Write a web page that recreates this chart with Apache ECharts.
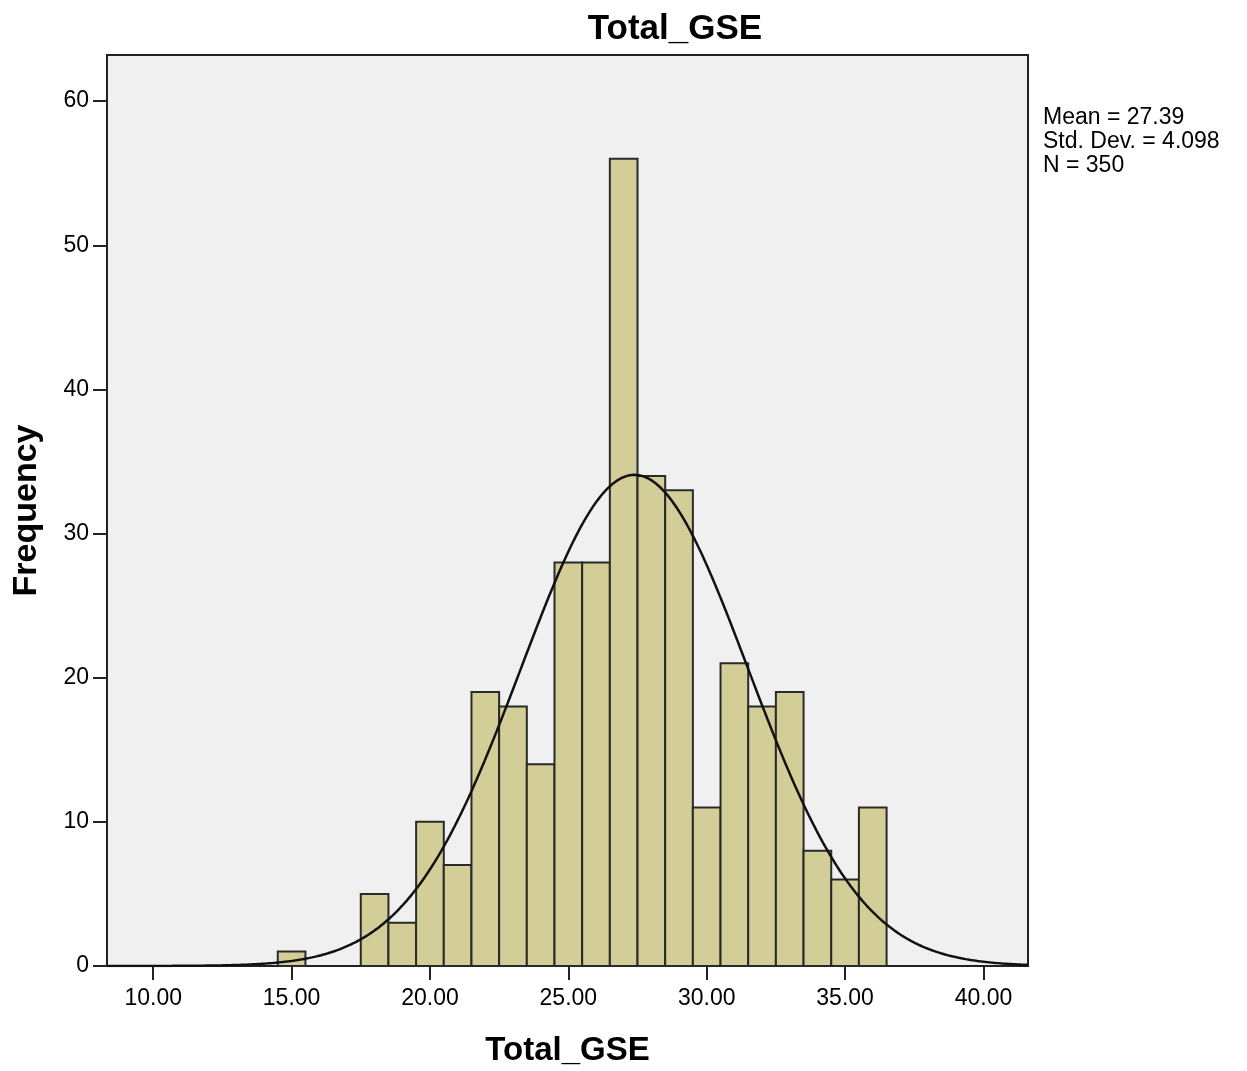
<!DOCTYPE html>
<html>
<head>
<meta charset="utf-8">
<script src="https://cdn.jsdelivr.net/npm/echarts@6/dist/echarts.min.js"></script>
<style>
html,body{margin:0;padding:0;background:#fff;}
#chart{width:1247px;height:1071px;}
</style>
</head>
<body>
<div id="chart"></div>
<script>
// Histogram bin centres (bin width 1) and frequencies
const binCenters = [15, 18, 19, 20, 21, 22, 23, 24, 25, 26, 27, 28, 29, 30, 31, 32, 33, 34, 35, 36];
const frequencies = [1, 5, 3, 10, 7, 19, 18, 14, 28, 28, 56, 34, 33, 11, 21, 18, 19, 8, 6, 11];
const xTicks = [10, 15, 20, 25, 30, 35, 40];
const yTicks = [0, 10, 20, 30, 40, 50, 60];
// Stated statistics of the fitted normal curve
const stats = { mean: 27.39, sd: 4.098, n: 350 };
const binWidth = 1;
const xMin = 8.33, xMax = 41.61, yMax = 63.2;

const barData = binCenters.map((c, i) => [c, frequencies[i]]);

// Fitted normal curve: N * binWidth * pdf(x)
const curve = [];
for (let i = 0; i <= 400; i++) {
  const x = xMin + (xMax - xMin) * i / 400;
  const z = (x - stats.mean) / stats.sd;
  curve.push([x, stats.n * binWidth * Math.exp(-0.5 * z * z) / (stats.sd * Math.sqrt(2 * Math.PI))]);
}

const font = 'Arial, "Liberation Sans", Helvetica, sans-serif';
const chart = echarts.init(document.getElementById('chart'), null, { renderer: 'canvas' });
chart.setOption({
  animation: false,
  backgroundColor: '#ffffff',
  title: {
    text: 'Total_GSE',
    left: 670, top: 7, textAlign: 'center',
    textStyle: { fontFamily: font, fontWeight: 'bold', fontSize: 35, color: '#000' }
  },
  grid: {
    left: 107, top: 55, right: 219, bottom: 105,
    containLabel: false, outerBoundsMode: 'none',
    show: true, backgroundColor: '#f0f0f0', borderColor: '#222', borderWidth: 2
  },
  xAxis: {
    type: 'value', min: xMin, max: xMax,
    name: 'Total_GSE', nameLocation: 'middle', nameGap: 68,
    nameTextStyle: { fontFamily: font, fontWeight: 'bold', fontSize: 33, color: '#000' },
    axisLine: { show: true, onZero: false, lineStyle: { color: '#222', width: 2 } },
    axisTick: { show: true, length: 14, customValues: xTicks, lineStyle: { color: '#222', width: 2 } },
    axisLabel: {
      customValues: xTicks, margin: 21,
      formatter: v => v.toFixed(2),
      fontFamily: font, fontSize: 23, color: '#000'
    },
    splitLine: { show: false }
  },
  yAxis: {
    type: 'value', min: 0, max: yMax,
    name: 'Frequency', nameLocation: 'middle', nameGap: 63, nameRotate: 90,
    nameTextStyle: { fontFamily: font, fontWeight: 'bold', fontSize: 34, color: '#000' },
    axisLine: { show: true, lineStyle: { color: '#222', width: 2 } },
    axisTick: { show: true, length: 14, customValues: yTicks, lineStyle: { color: '#222', width: 2 } },
    axisLabel: { customValues: yTicks, margin: 18, padding: [7, 0, 0, 0], fontFamily: font, fontSize: 23, color: '#000' },
    splitLine: { show: false }
  },
  graphic: [{
    type: 'text', left: 1043, top: 106,
    style: {
      text: 'Mean = ' + stats.mean.toFixed(2) + '\nStd. Dev. = ' + stats.sd.toFixed(3) + '\nN = ' + stats.n,
      font: '23px ' + font, lineHeight: 24, fill: '#000'
    }
  }],
  series: [{
    type: 'custom',
    data: barData,
    renderItem: (params, api) => {
      const c = api.value(0), f = api.value(1);
      const p0 = api.coord([c - binWidth / 2, f]);
      const p1 = api.coord([c + binWidth / 2, 0]);
      return {
        type: 'rect',
        shape: { x: p0[0], y: p0[1], width: p1[0] - p0[0], height: p1[1] - p0[1] },
        style: { fill: '#d3ce97', stroke: '#2a2a2a', lineWidth: 2 }
      };
    },
    z: 2
  }, {
    type: 'line',
    data: curve,
    showSymbol: false,
    smooth: false,
    lineStyle: { color: '#111', width: 2.5 },
    z: 3
  }]
});
</script>
</body>
</html>
